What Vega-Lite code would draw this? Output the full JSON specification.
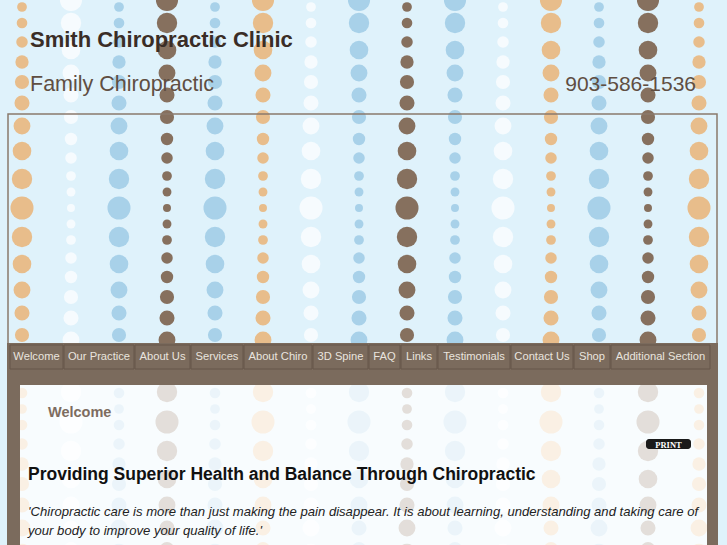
{
"$schema":"https://vega.github.io/schema/vega-lite/v6.json",
"width":727,"height":545,"autosize":{"type":"none"},"padding":0,
"background":"#dff2fb",
"config":{"view":{"stroke":null}},
"datasets":{
"dots":[
{"x":22,"y":7,"d":11,"c":"t"},{"x":22,"y":23,"d":12,"c":"t"},{"x":22,"y":42,"d":13,"c":"t"},{"x":22,"y":62,"d":15,"c":"t"},{"x":22,"y":82,"d":16,"c":"t"},{"x":22,"y":103,"d":17,"c":"t"},{"x":22,"y":126,"d":19,"c":"t"},{"x":22,"y":151,"d":21,"c":"t"},{"x":22,"y":179,"d":23,"c":"t"},{"x":22,"y":208,"d":26,"c":"t"},{"x":22,"y":237,"d":23,"c":"t"},{"x":22,"y":264,"d":21,"c":"t"},{"x":22,"y":290,"d":19,"c":"t"},{"x":22,"y":313,"d":17,"c":"t"},{"x":22,"y":335,"d":16,"c":"t"},{"x":22,"y":355,"d":15,"c":"t"},{"x":22,"y":374,"d":13,"c":"t"},{"x":22,"y":393,"d":12,"c":"t"},{"x":22,"y":409,"d":11,"c":"t"},{"x":22,"y":425,"d":12,"c":"t"},{"x":22,"y":444,"d":13,"c":"t"},{"x":22,"y":464,"d":15,"c":"t"},{"x":22,"y":484,"d":16,"c":"t"},{"x":22,"y":505,"d":17,"c":"t"},{"x":22,"y":528,"d":19,"c":"t"},{"x":22,"y":553,"d":21,"c":"t"},
{"x":119,"y":7,"d":11,"c":"b"},{"x":119,"y":23,"d":12,"c":"b"},{"x":119,"y":42,"d":13,"c":"b"},{"x":119,"y":62,"d":15,"c":"b"},{"x":119,"y":82,"d":16,"c":"b"},{"x":119,"y":103,"d":17,"c":"b"},{"x":119,"y":126,"d":19,"c":"b"},{"x":119,"y":151,"d":21,"c":"b"},{"x":119,"y":179,"d":23,"c":"b"},{"x":119,"y":208,"d":26,"c":"b"},{"x":119,"y":237,"d":23,"c":"b"},{"x":119,"y":264,"d":21,"c":"b"},{"x":119,"y":290,"d":19,"c":"b"},{"x":119,"y":313,"d":17,"c":"b"},{"x":119,"y":335,"d":16,"c":"b"},{"x":119,"y":355,"d":15,"c":"b"},{"x":119,"y":374,"d":13,"c":"b"},{"x":119,"y":393,"d":12,"c":"b"},{"x":119,"y":409,"d":11,"c":"b"},{"x":119,"y":425,"d":12,"c":"b"},{"x":119,"y":444,"d":13,"c":"b"},{"x":119,"y":464,"d":15,"c":"b"},{"x":119,"y":484,"d":16,"c":"b"},{"x":119,"y":505,"d":17,"c":"b"},{"x":119,"y":528,"d":19,"c":"b"},{"x":119,"y":553,"d":21,"c":"b"},
{"x":215,"y":7,"d":11,"c":"b"},{"x":215,"y":23,"d":12,"c":"b"},{"x":215,"y":42,"d":13,"c":"b"},{"x":215,"y":62,"d":15,"c":"b"},{"x":215,"y":82,"d":16,"c":"b"},{"x":215,"y":103,"d":17,"c":"b"},{"x":215,"y":126,"d":19,"c":"b"},{"x":215,"y":151,"d":21,"c":"b"},{"x":215,"y":179,"d":23,"c":"b"},{"x":215,"y":208,"d":26,"c":"b"},{"x":215,"y":237,"d":23,"c":"b"},{"x":215,"y":264,"d":21,"c":"b"},{"x":215,"y":290,"d":19,"c":"b"},{"x":215,"y":313,"d":17,"c":"b"},{"x":215,"y":335,"d":16,"c":"b"},{"x":215,"y":355,"d":15,"c":"b"},{"x":215,"y":374,"d":13,"c":"b"},{"x":215,"y":393,"d":12,"c":"b"},{"x":215,"y":409,"d":11,"c":"b"},{"x":215,"y":425,"d":12,"c":"b"},{"x":215,"y":444,"d":13,"c":"b"},{"x":215,"y":464,"d":15,"c":"b"},{"x":215,"y":484,"d":16,"c":"b"},{"x":215,"y":505,"d":17,"c":"b"},{"x":215,"y":528,"d":19,"c":"b"},{"x":215,"y":553,"d":21,"c":"b"},
{"x":311,"y":7,"d":11,"c":"w"},{"x":311,"y":23,"d":12,"c":"w"},{"x":311,"y":42,"d":13,"c":"w"},{"x":311,"y":62,"d":15,"c":"w"},{"x":311,"y":82,"d":16,"c":"w"},{"x":311,"y":103,"d":17,"c":"w"},{"x":311,"y":126,"d":19,"c":"w"},{"x":311,"y":151,"d":21,"c":"w"},{"x":311,"y":179,"d":23,"c":"w"},{"x":311,"y":208,"d":26,"c":"w"},{"x":311,"y":237,"d":23,"c":"w"},{"x":311,"y":264,"d":21,"c":"w"},{"x":311,"y":290,"d":19,"c":"w"},{"x":311,"y":313,"d":17,"c":"w"},{"x":311,"y":335,"d":16,"c":"w"},{"x":311,"y":355,"d":15,"c":"w"},{"x":311,"y":374,"d":13,"c":"w"},{"x":311,"y":393,"d":12,"c":"w"},{"x":311,"y":409,"d":11,"c":"w"},{"x":311,"y":425,"d":12,"c":"w"},{"x":311,"y":444,"d":13,"c":"w"},{"x":311,"y":464,"d":15,"c":"w"},{"x":311,"y":484,"d":16,"c":"w"},{"x":311,"y":505,"d":17,"c":"w"},{"x":311,"y":528,"d":19,"c":"w"},{"x":311,"y":553,"d":21,"c":"w"},
{"x":407,"y":7,"d":11,"c":"n"},{"x":407,"y":23,"d":12,"c":"n"},{"x":407,"y":42,"d":13,"c":"n"},{"x":407,"y":62,"d":15,"c":"n"},{"x":407,"y":82,"d":16,"c":"n"},{"x":407,"y":103,"d":17,"c":"n"},{"x":407,"y":126,"d":19,"c":"n"},{"x":407,"y":151,"d":21,"c":"n"},{"x":407,"y":179,"d":23,"c":"n"},{"x":407,"y":208,"d":26,"c":"n"},{"x":407,"y":237,"d":23,"c":"n"},{"x":407,"y":264,"d":21,"c":"n"},{"x":407,"y":290,"d":19,"c":"n"},{"x":407,"y":313,"d":17,"c":"n"},{"x":407,"y":335,"d":16,"c":"n"},{"x":407,"y":355,"d":15,"c":"n"},{"x":407,"y":374,"d":13,"c":"n"},{"x":407,"y":393,"d":12,"c":"n"},{"x":407,"y":409,"d":11,"c":"n"},{"x":407,"y":425,"d":12,"c":"n"},{"x":407,"y":444,"d":13,"c":"n"},{"x":407,"y":464,"d":15,"c":"n"},{"x":407,"y":484,"d":16,"c":"n"},{"x":407,"y":505,"d":17,"c":"n"},{"x":407,"y":528,"d":19,"c":"n"},{"x":407,"y":553,"d":21,"c":"n"},
{"x":503,"y":7,"d":11,"c":"w"},{"x":503,"y":23,"d":12,"c":"w"},{"x":503,"y":42,"d":13,"c":"w"},{"x":503,"y":62,"d":15,"c":"w"},{"x":503,"y":82,"d":16,"c":"w"},{"x":503,"y":103,"d":17,"c":"w"},{"x":503,"y":126,"d":19,"c":"w"},{"x":503,"y":151,"d":21,"c":"w"},{"x":503,"y":179,"d":23,"c":"w"},{"x":503,"y":208,"d":26,"c":"w"},{"x":503,"y":237,"d":23,"c":"w"},{"x":503,"y":264,"d":21,"c":"w"},{"x":503,"y":290,"d":19,"c":"w"},{"x":503,"y":313,"d":17,"c":"w"},{"x":503,"y":335,"d":16,"c":"w"},{"x":503,"y":355,"d":15,"c":"w"},{"x":503,"y":374,"d":13,"c":"w"},{"x":503,"y":393,"d":12,"c":"w"},{"x":503,"y":409,"d":11,"c":"w"},{"x":503,"y":425,"d":12,"c":"w"},{"x":503,"y":444,"d":13,"c":"w"},{"x":503,"y":464,"d":15,"c":"w"},{"x":503,"y":484,"d":16,"c":"w"},{"x":503,"y":505,"d":17,"c":"w"},{"x":503,"y":528,"d":19,"c":"w"},{"x":503,"y":553,"d":21,"c":"w"},
{"x":599,"y":7,"d":11,"c":"b"},{"x":599,"y":23,"d":12,"c":"b"},{"x":599,"y":42,"d":13,"c":"b"},{"x":599,"y":62,"d":15,"c":"b"},{"x":599,"y":82,"d":16,"c":"b"},{"x":599,"y":103,"d":17,"c":"b"},{"x":599,"y":126,"d":19,"c":"b"},{"x":599,"y":151,"d":21,"c":"b"},{"x":599,"y":179,"d":23,"c":"b"},{"x":599,"y":208,"d":26,"c":"b"},{"x":599,"y":237,"d":23,"c":"b"},{"x":599,"y":264,"d":21,"c":"b"},{"x":599,"y":290,"d":19,"c":"b"},{"x":599,"y":313,"d":17,"c":"b"},{"x":599,"y":335,"d":16,"c":"b"},{"x":599,"y":355,"d":15,"c":"b"},{"x":599,"y":374,"d":13,"c":"b"},{"x":599,"y":393,"d":12,"c":"b"},{"x":599,"y":409,"d":11,"c":"b"},{"x":599,"y":425,"d":12,"c":"b"},{"x":599,"y":444,"d":13,"c":"b"},{"x":599,"y":464,"d":15,"c":"b"},{"x":599,"y":484,"d":16,"c":"b"},{"x":599,"y":505,"d":17,"c":"b"},{"x":599,"y":528,"d":19,"c":"b"},{"x":599,"y":553,"d":21,"c":"b"},
{"x":699,"y":7,"d":11,"c":"t"},{"x":699,"y":23,"d":12,"c":"t"},{"x":699,"y":42,"d":13,"c":"t"},{"x":699,"y":62,"d":15,"c":"t"},{"x":699,"y":82,"d":16,"c":"t"},{"x":699,"y":103,"d":17,"c":"t"},{"x":699,"y":126,"d":19,"c":"t"},{"x":699,"y":151,"d":21,"c":"t"},{"x":699,"y":179,"d":23,"c":"t"},{"x":699,"y":208,"d":26,"c":"t"},{"x":699,"y":237,"d":23,"c":"t"},{"x":699,"y":264,"d":21,"c":"t"},{"x":699,"y":290,"d":19,"c":"t"},{"x":699,"y":313,"d":17,"c":"t"},{"x":699,"y":335,"d":16,"c":"t"},{"x":699,"y":355,"d":15,"c":"t"},{"x":699,"y":374,"d":13,"c":"t"},{"x":699,"y":393,"d":12,"c":"t"},{"x":699,"y":409,"d":11,"c":"t"},{"x":699,"y":425,"d":12,"c":"t"},{"x":699,"y":444,"d":13,"c":"t"},{"x":699,"y":464,"d":15,"c":"t"},{"x":699,"y":484,"d":16,"c":"t"},{"x":699,"y":505,"d":17,"c":"t"},{"x":699,"y":528,"d":19,"c":"t"},{"x":699,"y":553,"d":21,"c":"t"},
{"x":71,"y":0,"d":25,"c":"w"},{"x":71,"y":23,"d":23,"c":"w"},{"x":71,"y":50,"d":21,"c":"w"},{"x":71,"y":73,"d":19,"c":"w"},{"x":71,"y":95,"d":17,"c":"w"},{"x":71,"y":117,"d":16,"c":"w"},{"x":71,"y":139,"d":14,"c":"w"},{"x":71,"y":158,"d":13,"c":"w"},{"x":71,"y":176,"d":11,"c":"w"},{"x":71,"y":192,"d":10,"c":"w"},{"x":71,"y":208,"d":9,"c":"w"},{"x":71,"y":224,"d":10,"c":"w"},{"x":71,"y":240,"d":11,"c":"w"},{"x":71,"y":258,"d":13,"c":"w"},{"x":71,"y":277,"d":14,"c":"w"},{"x":71,"y":297,"d":16,"c":"w"},{"x":71,"y":318,"d":17,"c":"w"},{"x":71,"y":340,"d":19,"c":"w"},{"x":71,"y":364,"d":21,"c":"w"},{"x":71,"y":392,"d":23,"c":"w"},{"x":71,"y":422,"d":26,"c":"w"},{"x":71,"y":451,"d":23,"c":"w"},{"x":71,"y":479,"d":21,"c":"w"},{"x":71,"y":505,"d":19,"c":"w"},{"x":71,"y":528,"d":17,"c":"w"},{"x":71,"y":549,"d":16,"c":"w"},
{"x":167,"y":0,"d":25,"c":"n"},{"x":167,"y":23,"d":23,"c":"n"},{"x":167,"y":50,"d":21,"c":"n"},{"x":167,"y":73,"d":19,"c":"n"},{"x":167,"y":95,"d":17,"c":"n"},{"x":167,"y":117,"d":16,"c":"n"},{"x":167,"y":139,"d":14,"c":"n"},{"x":167,"y":158,"d":13,"c":"n"},{"x":167,"y":176,"d":11,"c":"n"},{"x":167,"y":192,"d":10,"c":"n"},{"x":167,"y":208,"d":9,"c":"n"},{"x":167,"y":224,"d":10,"c":"n"},{"x":167,"y":240,"d":11,"c":"n"},{"x":167,"y":258,"d":13,"c":"n"},{"x":167,"y":277,"d":14,"c":"n"},{"x":167,"y":297,"d":16,"c":"n"},{"x":167,"y":318,"d":17,"c":"n"},{"x":167,"y":340,"d":19,"c":"n"},{"x":167,"y":364,"d":21,"c":"n"},{"x":167,"y":392,"d":23,"c":"n"},{"x":167,"y":422,"d":26,"c":"n"},{"x":167,"y":451,"d":23,"c":"n"},{"x":167,"y":479,"d":21,"c":"n"},{"x":167,"y":505,"d":19,"c":"n"},{"x":167,"y":528,"d":17,"c":"n"},{"x":167,"y":549,"d":16,"c":"n"},
{"x":263,"y":0,"d":25,"c":"t"},{"x":263,"y":23,"d":23,"c":"t"},{"x":263,"y":50,"d":21,"c":"t"},{"x":263,"y":73,"d":19,"c":"t"},{"x":263,"y":95,"d":17,"c":"t"},{"x":263,"y":117,"d":16,"c":"t"},{"x":263,"y":139,"d":14,"c":"t"},{"x":263,"y":158,"d":13,"c":"t"},{"x":263,"y":176,"d":11,"c":"t"},{"x":263,"y":192,"d":10,"c":"t"},{"x":263,"y":208,"d":9,"c":"t"},{"x":263,"y":224,"d":10,"c":"t"},{"x":263,"y":240,"d":11,"c":"t"},{"x":263,"y":258,"d":13,"c":"t"},{"x":263,"y":277,"d":14,"c":"t"},{"x":263,"y":297,"d":16,"c":"t"},{"x":263,"y":318,"d":17,"c":"t"},{"x":263,"y":340,"d":19,"c":"t"},{"x":263,"y":364,"d":21,"c":"t"},{"x":263,"y":392,"d":23,"c":"t"},{"x":263,"y":422,"d":26,"c":"t"},{"x":263,"y":451,"d":23,"c":"t"},{"x":263,"y":479,"d":21,"c":"t"},{"x":263,"y":505,"d":19,"c":"t"},{"x":263,"y":528,"d":17,"c":"t"},{"x":263,"y":549,"d":16,"c":"t"},
{"x":359,"y":0,"d":25,"c":"b"},{"x":359,"y":23,"d":23,"c":"b"},{"x":359,"y":50,"d":21,"c":"b"},{"x":359,"y":73,"d":19,"c":"b"},{"x":359,"y":95,"d":17,"c":"b"},{"x":359,"y":117,"d":16,"c":"b"},{"x":359,"y":139,"d":14,"c":"b"},{"x":359,"y":158,"d":13,"c":"b"},{"x":359,"y":176,"d":11,"c":"b"},{"x":359,"y":192,"d":10,"c":"b"},{"x":359,"y":208,"d":9,"c":"b"},{"x":359,"y":224,"d":10,"c":"b"},{"x":359,"y":240,"d":11,"c":"b"},{"x":359,"y":258,"d":13,"c":"b"},{"x":359,"y":277,"d":14,"c":"b"},{"x":359,"y":297,"d":16,"c":"b"},{"x":359,"y":318,"d":17,"c":"b"},{"x":359,"y":340,"d":19,"c":"b"},{"x":359,"y":364,"d":21,"c":"b"},{"x":359,"y":392,"d":23,"c":"b"},{"x":359,"y":422,"d":26,"c":"b"},{"x":359,"y":451,"d":23,"c":"b"},{"x":359,"y":479,"d":21,"c":"b"},{"x":359,"y":505,"d":19,"c":"b"},{"x":359,"y":528,"d":17,"c":"b"},{"x":359,"y":549,"d":16,"c":"b"},
{"x":455,"y":0,"d":25,"c":"b"},{"x":455,"y":23,"d":23,"c":"b"},{"x":455,"y":50,"d":21,"c":"b"},{"x":455,"y":73,"d":19,"c":"b"},{"x":455,"y":95,"d":17,"c":"b"},{"x":455,"y":117,"d":16,"c":"b"},{"x":455,"y":139,"d":14,"c":"b"},{"x":455,"y":158,"d":13,"c":"b"},{"x":455,"y":176,"d":11,"c":"b"},{"x":455,"y":192,"d":10,"c":"b"},{"x":455,"y":208,"d":9,"c":"b"},{"x":455,"y":224,"d":10,"c":"b"},{"x":455,"y":240,"d":11,"c":"b"},{"x":455,"y":258,"d":13,"c":"b"},{"x":455,"y":277,"d":14,"c":"b"},{"x":455,"y":297,"d":16,"c":"b"},{"x":455,"y":318,"d":17,"c":"b"},{"x":455,"y":340,"d":19,"c":"b"},{"x":455,"y":364,"d":21,"c":"b"},{"x":455,"y":392,"d":23,"c":"b"},{"x":455,"y":422,"d":26,"c":"b"},{"x":455,"y":451,"d":23,"c":"b"},{"x":455,"y":479,"d":21,"c":"b"},{"x":455,"y":505,"d":19,"c":"b"},{"x":455,"y":528,"d":17,"c":"b"},{"x":455,"y":549,"d":16,"c":"b"},
{"x":551,"y":0,"d":25,"c":"t"},{"x":551,"y":23,"d":23,"c":"t"},{"x":551,"y":50,"d":21,"c":"t"},{"x":551,"y":73,"d":19,"c":"t"},{"x":551,"y":95,"d":17,"c":"t"},{"x":551,"y":117,"d":16,"c":"t"},{"x":551,"y":139,"d":14,"c":"t"},{"x":551,"y":158,"d":13,"c":"t"},{"x":551,"y":176,"d":11,"c":"t"},{"x":551,"y":192,"d":10,"c":"t"},{"x":551,"y":208,"d":9,"c":"t"},{"x":551,"y":224,"d":10,"c":"t"},{"x":551,"y":240,"d":11,"c":"t"},{"x":551,"y":258,"d":13,"c":"t"},{"x":551,"y":277,"d":14,"c":"t"},{"x":551,"y":297,"d":16,"c":"t"},{"x":551,"y":318,"d":17,"c":"t"},{"x":551,"y":340,"d":19,"c":"t"},{"x":551,"y":364,"d":21,"c":"t"},{"x":551,"y":392,"d":23,"c":"t"},{"x":551,"y":422,"d":26,"c":"t"},{"x":551,"y":451,"d":23,"c":"t"},{"x":551,"y":479,"d":21,"c":"t"},{"x":551,"y":505,"d":19,"c":"t"},{"x":551,"y":528,"d":17,"c":"t"},{"x":551,"y":549,"d":16,"c":"t"},
{"x":648,"y":0,"d":25,"c":"n"},{"x":648,"y":23,"d":23,"c":"n"},{"x":648,"y":50,"d":21,"c":"n"},{"x":648,"y":73,"d":19,"c":"n"},{"x":648,"y":95,"d":17,"c":"n"},{"x":648,"y":117,"d":16,"c":"n"},{"x":648,"y":139,"d":14,"c":"n"},{"x":648,"y":158,"d":13,"c":"n"},{"x":648,"y":176,"d":11,"c":"n"},{"x":648,"y":192,"d":10,"c":"n"},{"x":648,"y":208,"d":9,"c":"n"},{"x":648,"y":224,"d":10,"c":"n"},{"x":648,"y":240,"d":11,"c":"n"},{"x":648,"y":258,"d":13,"c":"n"},{"x":648,"y":277,"d":14,"c":"n"},{"x":648,"y":297,"d":16,"c":"n"},{"x":648,"y":318,"d":17,"c":"n"},{"x":648,"y":340,"d":19,"c":"n"},{"x":648,"y":364,"d":21,"c":"n"},{"x":648,"y":392,"d":23,"c":"n"},{"x":648,"y":422,"d":26,"c":"n"},{"x":648,"y":451,"d":23,"c":"n"},{"x":648,"y":479,"d":21,"c":"n"},{"x":648,"y":505,"d":19,"c":"n"},{"x":648,"y":528,"d":17,"c":"n"},{"x":648,"y":549,"d":16,"c":"n"}
],
"nav":[
{"t":"Welcome","x":10,"x2":63,"xc":36.5,"y":345,"y2":369,"yc":357},
{"t":"Our Practice","x":64,"x2":134,"xc":99,"y":345,"y2":369,"yc":357},
{"t":"About Us","x":135,"x2":190,"xc":162.5,"y":345,"y2":369,"yc":357},
{"t":"Services","x":191,"x2":243,"xc":217,"y":345,"y2":369,"yc":357},
{"t":"About Chiro","x":244,"x2":312,"xc":278,"y":345,"y2":369,"yc":357},
{"t":"3D Spine","x":313,"x2":368,"xc":340.5,"y":345,"y2":369,"yc":357},
{"t":"FAQ","x":369,"x2":400,"xc":384.5,"y":345,"y2":369,"yc":357},
{"t":"Links","x":401,"x2":437,"xc":419,"y":345,"y2":369,"yc":357},
{"t":"Testimonials","x":438,"x2":510,"xc":474,"y":345,"y2":369,"yc":357},
{"t":"Contact Us","x":511,"x2":573,"xc":542,"y":345,"y2":369,"yc":357},
{"t":"Shop","x":574,"x2":610,"xc":592,"y":345,"y2":369,"yc":357},
{"t":"Additional Section","x":611,"x2":710,"xc":660.5,"y":345,"y2":369,"yc":357}
]
},
"encoding":{
"x":{"field":"x","type":"quantitative","scale":{"domain":[0,727],"nice":false,"zero":false},"axis":null},
"y":{"field":"y","type":"quantitative","scale":{"domain":[545,0],"nice":false,"zero":false},"axis":null}
},
"layer":[
{"data":{"name":"dots"},"mark":{"type":"circle","opacity":1,"stroke":null},
 "encoding":{
  "size":{"field":"d","type":"quantitative","scale":{"type":"pow","exponent":2,"domain":[0,30],"range":[0,706.86]},"legend":null},
  "color":{"field":"c","type":"nominal","scale":{"domain":["t","n","b","w"],"range":["#e8bd8b","#86705e","#a8d1e9","#f6fbfe"]},"legend":null}}},
{"data":{"values":[{"x":8,"y":114,"x2":717,"y2":344}]},"mark":{"type":"rect","fillOpacity":0,"stroke":"#8a7a6c","strokeWidth":1.5},
 "encoding":{"x2":{"field":"x2"},"y2":{"field":"y2"}}},
{"data":{"values":[{"x":20,"y":385,"x2":707,"y2":545}]},"mark":{"type":"rect","fill":"#ffffff","opacity":0.77},
 "encoding":{"x2":{"field":"x2"},"y2":{"field":"y2"}}},
{"data":{"values":[{"x":7,"y":343,"x2":718,"y2":385},{"x":7,"y":385,"x2":20,"y2":545},{"x":707,"y":385,"x2":718,"y2":545}]},"mark":{"type":"rect","fill":"#7b6b5d"},
 "encoding":{"x2":{"field":"x2"},"y2":{"field":"y2"}}},
{"data":{"name":"nav"},"mark":{"type":"rect","fill":"#7b6b5d","stroke":"#66574b","strokeWidth":1},
 "encoding":{"x2":{"field":"x2"},"y2":{"field":"y2"}}},
{"data":{"name":"nav"},"mark":{"type":"text","color":"#e9e4df","font":"Liberation Sans","fontSize":11.2,"align":"center","baseline":"middle"},
 "encoding":{"x":{"field":"xc","type":"quantitative"},"y":{"field":"yc","type":"quantitative"},"text":{"field":"t"}}},
{"data":{"values":[{"x":30,"y":47,"t":"Smith Chiropractic Clinic"}]},"mark":{"type":"text","font":"Liberation Sans","fontSize":22,"fontWeight":"bold","color":"#3a2d26","align":"left","baseline":"alphabetic"},
 "encoding":{"text":{"field":"t"}}},
{"data":{"values":[{"x":30,"y":91,"t":"Family Chiropractic"}]},"mark":{"type":"text","font":"Liberation Sans","fontSize":21.5,"color":"#5f4e42","align":"left","baseline":"alphabetic"},
 "encoding":{"text":{"field":"t"}}},
{"data":{"values":[{"x":696,"y":91,"t":"903-586-1536"}]},"mark":{"type":"text","font":"Liberation Sans","fontSize":21,"color":"#5f4e42","align":"right","baseline":"alphabetic"},
 "encoding":{"text":{"field":"t"}}},
{"data":{"values":[{"x":48,"y":417,"t":"Welcome"}]},"mark":{"type":"text","font":"Liberation Sans","fontSize":14.5,"fontWeight":"bold","color":"#7d6c60","align":"left","baseline":"alphabetic"},
 "encoding":{"text":{"field":"t"}}},
{"data":{"values":[{"x":28,"y":480,"t":"Providing Superior Health and Balance Through Chiropractic"}]},"mark":{"type":"text","font":"Liberation Sans","fontSize":17.5,"fontWeight":"bold","color":"#111111","align":"left","baseline":"alphabetic"},
 "encoding":{"text":{"field":"t"}}},
{"data":{"values":[{"x":28,"y":516,"t":"'Chiropractic care is more than just making the pain disappear. It is about learning, understanding and taking care of"},{"x":28,"y":535,"t":"your body to improve your quality of life.'"}]},"mark":{"type":"text","font":"Liberation Sans","fontSize":13.1,"fontStyle":"italic","color":"#222222","align":"left","baseline":"alphabetic"},
 "encoding":{"text":{"field":"t"}}},
{"data":{"values":[{"x":646,"y":439,"x2":691,"y2":449}]},"mark":{"type":"rect","fill":"#1a1a1a","cornerRadius":3},
 "encoding":{"x2":{"field":"x2"},"y2":{"field":"y2"}}},
{"data":{"values":[{"x":668.5,"y":444.5,"t":"PRINT"}]},"mark":{"type":"text","font":"Liberation Serif","fontSize":8.5,"fontWeight":"bold","color":"#ffffff","align":"center","baseline":"middle"},
 "encoding":{"text":{"field":"t"}}}
]
}
